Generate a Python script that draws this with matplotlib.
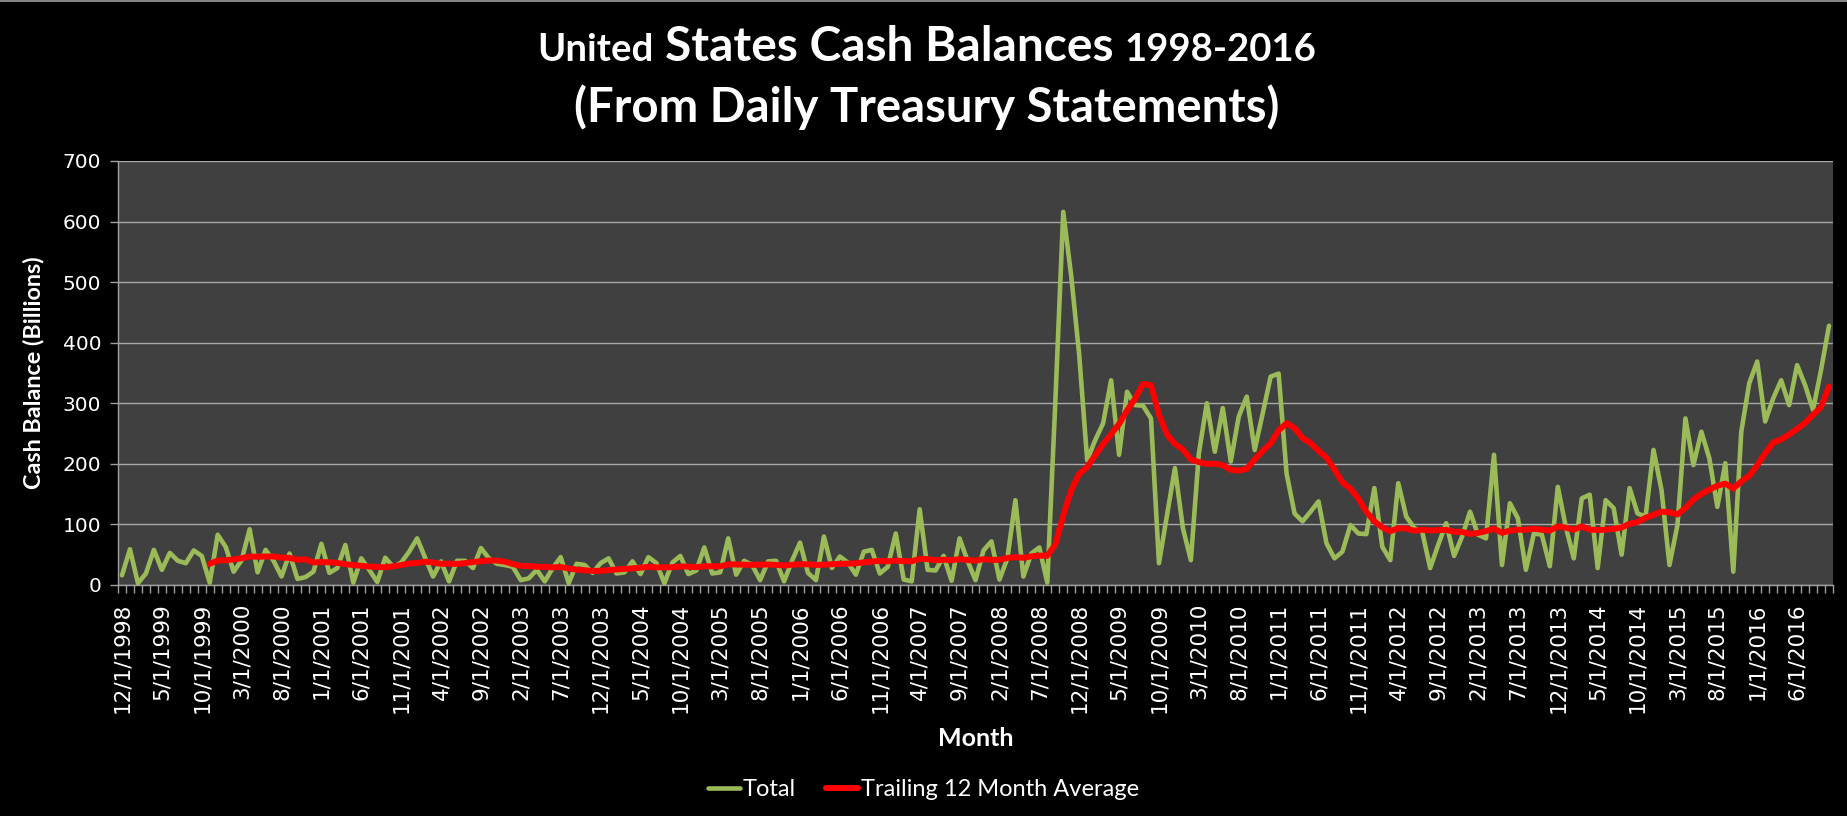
import numpy as np
import pandas as pd
import matplotlib
matplotlib.use("Agg")
import matplotlib.pyplot as plt
from matplotlib.lines import Line2D

plt.rcParams['font.family'] = ['Lato', 'DejaVu Sans']

# ---------------- data ----------------
start_month = '1998-12-01'
total_billions = [
    16, 59, 3, 19, 58, 25, 53, 40, 36, 57, 48, 4, 83, 63, 22, 41, 92, 21, 58, 40,
    14, 52, 10, 13, 22, 68, 20, 28, 66, 4, 44, 25, 5, 45, 30,
    37, 55, 77, 45, 14, 39, 6, 40, 40, 28, 61, 44, 35, 33, 30, 8, 11, 25, 6, 28,
    46, 3, 35, 33, 20, 36, 44, 19, 21, 39, 18, 46, 36, 3, 37, 48, 18, 24, 62, 19,
    21, 77, 17, 40, 33, 8, 39, 40, 6, 40, 70, 20, 8, 80, 28, 47, 37, 17, 55, 58, 19,
    30, 85, 9, 6, 125, 25, 24, 48, 7, 77, 40, 8, 57, 72, 9, 44, 140, 14, 52, 62, 4,
    300, 616, 510, 380, 206, 239, 267, 338, 215, 319, 297, 296, 275, 36, 115, 193,
    94, 41, 217, 300, 220, 292, 204, 278, 311, 223, 283, 344, 349, 184, 118, 105,
    121, 138, 69, 44, 55, 99, 85,
    84, 160, 63, 41, 168, 113, 94, 88, 28, 66, 102, 48, 80, 121, 83, 77, 215, 33,
    135, 110, 25, 85, 83, 31, 162, 96, 44, 143, 149, 28, 140, 127, 50, 160, 118,
    113, 223, 157, 33, 99, 275, 198, 253, 209, 129, 201, 22, 253, 333, 369, 270,
    308, 338, 297, 363, 330, 289, 355, 428,
]
months = pd.date_range(start_month, periods=len(total_billions), freq='MS')
month_labels = [f"{m.month}/1/{m.year}" for m in months]
label_step = 5
series_names = ['Total', 'Trailing 12 Month Average']
y_ticks = [0, 100, 200, 300, 400, 500, 600, 700]

total = pd.Series(total_billions, dtype=float)
trailing = total.rolling(12).mean()

# ---------------- figure ----------------
W, H = 1847, 816
fig = plt.figure(figsize=(W / 100, H / 100), dpi=100, facecolor='black')
ax = fig.add_axes([118 / W, 1 - 585 / H, (1833 - 118) / W, (585 - 161) / H])
ax.set_facecolor('#404040')

x = np.arange(len(total))
ax.plot(x, total, color='#9BBB59', lw=3.3, solid_joinstyle='round',
        solid_capstyle='round', label=series_names[0], zorder=3)
ax.plot(x, trailing, color='#FF0000', lw=4.3, solid_joinstyle='round',
        solid_capstyle='round', label=series_names[1], zorder=4)

ax.set_xlim(-0.5, len(total) - 0.5)
ax.set_ylim(y_ticks[0], y_ticks[-1])
ax.set_yticks(y_ticks)
ax.set_yticklabels([str(v) for v in y_ticks], fontsize=14.5, color='white',
                   family=['DejaVu Sans'])
ax.set_xticks(x[::label_step])
ax.set_xticklabels(month_labels[::label_step], rotation=90, fontsize=15.5,
                   color='white', family=['DejaVu Sans'], va='top')
ax.set_xticks(np.arange(-0.5, len(total)), minor=True)
ax.tick_params(axis='x', which='major', length=0, pad=13)
ax.tick_params(axis='x', which='minor', length=6, color='#a0a0a0', width=1,
               direction='out')
ax.tick_params(axis='y', which='major', length=6, color='#a0a0a0', width=1,
               direction='out', pad=6)

ax.yaxis.grid(True, color='#a8a8a8', lw=1)
ax.set_axisbelow(True)
for s in ['top', 'right']:
    ax.spines[s].set_visible(False)
for s in ['left', 'bottom']:
    ax.spines[s].set_color('#a0a0a0')
    ax.spines[s].set_linewidth(1)

# thin border line at the top of the chart area
fig.add_artist(Line2D([0, 1], [1 - 1 / H, 1 - 1 / H], color='#a0a0a0', lw=1.2,
                      transform=fig.transFigure))

# axis titles
fig.text(34 / W, 1 - 373 / H, 'Cash Balance (Billions)', rotation=90,
         ha='center', va='center', color='white', fontsize=16.8,
         fontweight='bold')
fig.text(976 / W, 1 - 738 / H, 'Month', ha='center', va='center',
         color='white', fontsize=18, fontweight='bold')

# title (mixed sizes on line 1)
fig.canvas.draw()
r = fig.canvas.get_renderer()
pieces = [("United", 27.5), ("States Cash Balances", 34.5), ("1998-2016", 27.5)]
texts = [fig.text(0, 1 - 61 / H, s, fontsize=fs, fontweight='bold',
                  color='white', ha='left', va='baseline') for s, fs in pieces]
widths = [t.get_window_extent(r).width for t in texts]
gap = 11
tw = sum(widths) + gap * (len(widths) - 1)
cx = 927 - tw / 2
for t, w in zip(texts, widths):
    t.set_x(cx / W)
    cx += w + gap
fig.text(927 / W, 1 - 122 / H, '(From Daily Treasury Statements)',
         fontsize=34, fontweight='bold', color='white', ha='center',
         va='baseline')

# legend
handles, labels = ax.get_legend_handles_labels()
leg = fig.legend(handles, labels, loc='center', ncol=2,
                 bbox_to_anchor=(923.5 / W, 1 - 790 / H), frameon=False,
                 fontsize=17, labelcolor='white', handlelength=1.35,
                 handletextpad=0.1, columnspacing=1.3)

fig.savefig('out.png', dpi=100, facecolor='black')
